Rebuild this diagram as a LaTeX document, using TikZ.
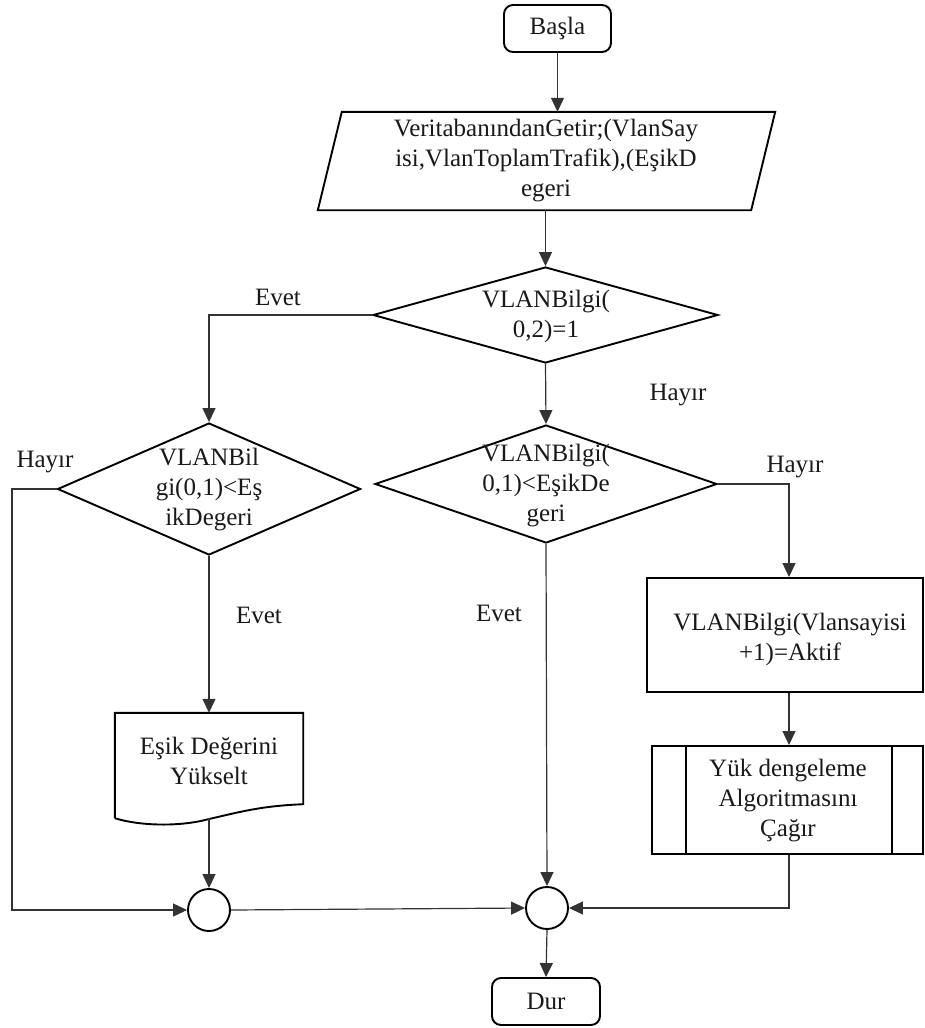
\documentclass[tikz,border=0pt]{standalone}
\usepackage{fontspec}
\setmainfont{Liberation Serif}
\usetikzlibrary{shapes.geometric,arrows.meta,calc}
\begin{document}
\begin{tikzpicture}[x=1pt,y=-1pt,
  every node/.style={font=\fontsize{25pt}{30pt}\selectfont, text=black!90},
  shapeline/.style={draw=black,line width=1.9pt},
  conn/.style={draw=black!80,line width=1.2pt},
  arr/.style={conn,-{Triangle[width=13pt,length=14pt]}},
  txt/.style={align=center,inner sep=0pt},
  term/.style={shapeline,rounded corners=9pt,minimum width=107pt,minimum height=47pt,inner sep=0pt},
  dia/.style={shapeline,diamond,inner sep=0pt},
  box/.style={rectangle,inner sep=0pt},
  joint/.style={shapeline,circle,minimum size=42pt,inner sep=0pt},
  lbl/.style={inner sep=0pt}
]
\useasboundingbox (0,0) rectangle (924,1028);

% terminals
\node[term] (start) at (557.5,28.5) {Başla};
\node[term,minimum width=108pt] (stop) at (546,1001.5) {Dur};

% data input (parallelogram)
\node[box,minimum width=457pt,minimum height=98pt] (para) at (546.5,161) {};
\draw[shapeline] ($(para.north west)+(24,0)$) -- (para.north east)
  -- ($(para.south east)-(24,0)$) -- (para.south west) -- cycle;
\node[txt] (parat) at (546,161) {VeritabanındanGetir;(VlanSay\\isi,VlanToplamTrafik),(EşikD\\egeri};

% decisions
\node[dia,minimum width=345pt,minimum height=96pt] (d1) at (545.5,315) {};
\node[txt] (d1t) at (546,316) {VLANBilgi(\\0,2)=1};
\node[dia,minimum width=303pt,minimum height=132pt] (d2) at (209,489) {};
\node[txt] (d2t) at (209,490) {VLANBil\\gi(0,1)<Eş\\ikDegeri};
\node[dia,minimum width=342pt,minimum height=118pt] (d3) at (546,484) {};
\node[txt] (d3t) at (546,486) {VLANBilgi(\\0,1)<EşikDe\\geri};

% document
\node[box,minimum width=188pt,minimum height=105pt] (doc) at (209,765.5) {};
\draw[shapeline] (doc.south west) -- (doc.north west) -- (doc.north east)
  -- ($(doc.south east)+(0,-14)$)
  .. controls (260,806) and (240,812) .. (209,819)
  .. controls (180,827) and (140,826) .. (doc.south west);
\node[txt] (doct) at (209,761) {Eşik Değerini\\Yükselt};

% process
\node[box,shapeline,minimum width=276pt,minimum height=114pt] (act) at (785,635) {};
\node[txt] (actt) at (790,639) {VLANBilgi(Vlansayisi\\+1)=Aktif};

% predefined process
\node[box,shapeline,minimum width=271pt,minimum height=108pt] (sub) at (787.5,800) {};
\draw[shapeline] ($(sub.north west)+(35,0)$) -- ($(sub.south west)+(35,0)$);
\draw[shapeline] ($(sub.north east)-(32,0)$) -- ($(sub.south east)-(32,0)$);
\node[txt] (subt) at (788,801) {Yük dengeleme\\Algoritmasını\\Çağır};

% connectors
\node[joint] (c1) at (209,910) {};
\node[joint] (c2) at (547,908) {};
\coordinate (rcol) at (789,0);
\coordinate (lcol) at (12,0);

\draw[arr] (start.south) -- (start.south |- para.north);
\draw[arr] (d1.north |- para.south) -- (d1.north);
\draw[arr] (d1.west) -| (d2.north);
\draw[arr] (d1.south) -- (d3.north);
\draw[arr] (d2.west) -- (lcol |- d2.west) |- (c1.west);
\draw[arr] (d2.south) -- (doc.north);
\draw[arr] (doc.south -| c1.north) -- (c1.north);
\draw[arr] (c1.east) -- (c2.west);
\draw[arr] (d3.south) -- (c2.north);
\draw[arr] (d3.east) -| (rcol |- act.north);
\draw[arr] (rcol |- act.south) -- (rcol |- sub.north);
\draw[arr] (rcol |- sub.south) |- (c2.east);
\draw[arr] (c2.south) -- (stop.north);

% branch labels
\node[lbl] (l1) at (278,297) {Evet};
\node[lbl] (l2) at (678,395) {Hayır};
\node[lbl] (l3) at (45,462) {Hayır};
\node[lbl] (l4) at (795,467) {Hayır};
\node[lbl] (l5) at (259,615) {Evet};
\node[lbl] (l6) at (499,613) {Evet};
\end{tikzpicture}
\end{document}
